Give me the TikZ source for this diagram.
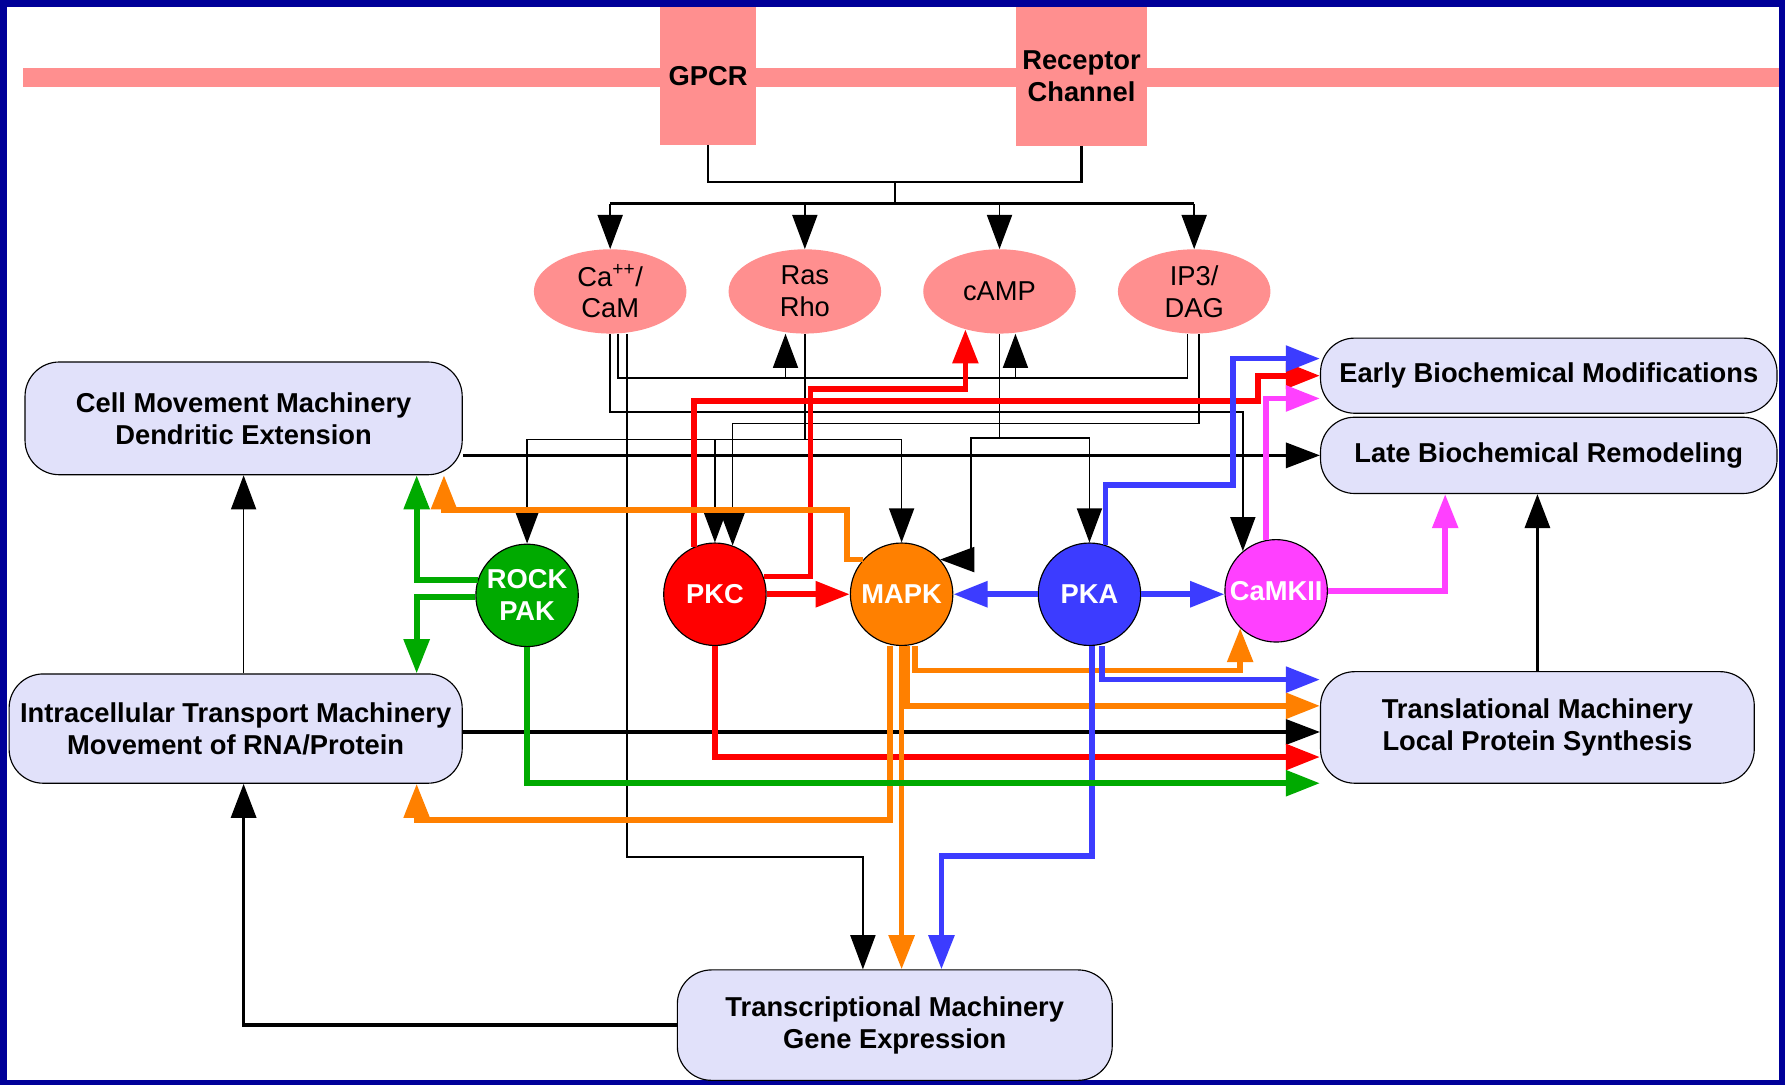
\documentclass[tikz,border=0pt]{standalone}
\usepackage{fontspec}
\setmainfont{Liberation Sans}
\usetikzlibrary{shapes.geometric,arrows.meta,calc}
\definecolor{navyframe}{RGB}{0,0,153}
\definecolor{membrane}{RGB}{255,143,143}
\definecolor{boxfill}{RGB}{225,225,250}
\definecolor{rockgreen}{RGB}{0,170,0}
\definecolor{pkcred}{RGB}{255,0,0}
\definecolor{mapkorange}{RGB}{255,128,0}
\definecolor{pkablue}{RGB}{60,60,255}
\definecolor{camkpink}{RGB}{255,64,255}

\begin{document}
\begin{tikzpicture}[x=1pt,y=-1pt]
    \pgfmathsetmacro{\picw}{1568}
    \pgfmathsetmacro{\pich}{953}
    \tikzset{
        box/.style={draw=black,line width=1pt,fill=boxfill,rounded corners=30pt,inner sep=0pt,align=center,font=\fontsize{24}{28}\selectfont\bfseries},
        messenger/.style={ellipse,fill=membrane,minimum width=134pt,minimum height=74pt,inner sep=0pt,align=center,font=\fontsize{24}{28}\selectfont},
        kinase/.style={circle,draw=black,line width=1pt,minimum size=90pt,inner sep=0pt,align=center,text=white,font=\fontsize{24}{28}\selectfont\bfseries},
        membox/.style={fill=membrane,minimum width=85pt,minimum height=121pt,inner sep=0pt,align=center,font=\fontsize{24}{28}\selectfont\bfseries},
        wire/.style={draw=black,line width=1.5pt},
        bar/.style={draw=black,line width=3pt},
        flow/.style={line width=5pt},
        arr/.style={-{Triangle[length=30pt,width=22pt]}}
    }
    \fill[navyframe] (0,0) rectangle (\picw,\pich);
    \fill[white] (6,6) rectangle (\picw-5,\pich-4);
    \useasboundingbox (0,0) rectangle (\picw,\pich);
    \fill[membrane] (20,60) rectangle (1563,76);
    \node[membox] (gpcr) at (622,66.5) {GPCR};
    \node[membox,minimum width=115pt,minimum height=122pt] (recep) at (950,67) {Receptor\\Channel};

    \node[messenger] (ca) at (536,256) {Ca\textsuperscript{++}/\\CaM};
    \node[messenger] (ras) at (707,256) {Ras\\Rho};
    \node[messenger] (camp) at (878,256) {cAMP};
    \node[messenger] (ip3) at (1049,256) {IP3/\\DAG};

    \node[kinase,fill=rockgreen] (rock) at (463,523) {ROCK\\PAK};
    \node[kinase,fill=pkcred] (pkc) at (628,522) {PKC};
    \node[kinase,fill=mapkorange] (mapk) at (792,522) {MAPK};
    \node[kinase,fill=pkablue] (pka) at (957,522) {PKA};
    \node[kinase,fill=camkpink] (camk) at (1121,519) {CaMKII};

    \node[box,minimum width=384pt,minimum height=99pt] (cellmove) at (214,367.5) {Cell Movement Machinery\\Dendritic Extension};
    \node[box,minimum width=398pt,minimum height=96pt] (transport) at (207,640) {Intracellular Transport Machinery\\Movement of RNA/Protein};
    \node[box,minimum width=401pt,minimum height=66pt] (early) at (1360.5,330) {Early Biochemical Modifications};
    \node[box,minimum width=401pt,minimum height=67pt] (late) at (1360.5,400) {Late Biochemical Remodeling};
    \node[box,minimum width=381pt,minimum height=98pt] (transl) at (1350.5,639) {Translational Machinery\\Local Protein Synthesis};
    \node[box,minimum width=382pt,minimum height=97pt] (transc) at (786,900.5) {Transcriptional Machinery\\Gene Expression};

    \coordinate (j_mem) at (786,160);
    \coordinate (j_bus) at (786,179);
    \coordinate (j_low) at (790,332);
    \coordinate (j_ca) at (800,362);
    \coordinate (j_tc) at (650,753);
    \coordinate (j_ras) at (707,386);
    \coordinate (j_dag) at (800,372);
    \coordinate (j_camp) at (878,385);
    \coordinate (t_pka) at ($(transl.west)+(0,-42)$);
    \coordinate (t_mapk) at ($(transl.west)+(0,-19)$);
    \coordinate (t_itm) at ($(transl.west)+(0,4)$);
    \coordinate (t_pkc) at ($(transl.west)+(0,26)$);
    \coordinate (t_rock) at ($(transl.west)+(0,49)$);
    \coordinate (e_pka) at ($(early.west)+(0,-15)$);
    \coordinate (e_camk) at ($(early.west)+(0,20)$);

    \draw[wire,line width=2pt] (gpcr.south) |- (j_mem) -| (recep.south);
    \draw[wire] (j_mem) -- (j_bus);
    \draw[bar] (ca.north |- j_bus) -- (ip3.north |- j_bus);
    \draw[wire,arr] (ca.north |- j_bus) -- (ca.north);
    \draw[wire,arr] (ras.north |- j_bus) -- (ras.north);
    \draw[wire,arr] (camp.north |- j_bus) -- (camp.north);
    \draw[wire,arr] (ip3.north |- j_bus) -- (ip3.north);

    \draw[wire] ([xshift=7pt]ca.south) |- (j_low) -| ([xshift=-6pt]ip3.south);
    \draw[wire,arr] ([xshift=-17pt]ras.south |- j_low) -- ([xshift=-17pt]ras.south);
    \draw[wire,arr] ([xshift=14pt]camp.south |- j_low) -- ([xshift=14pt]camp.south);
    \draw[wire,arr] (ca.south) |- (j_ca) -| (camk.130);
    \draw[wire,arr] ([xshift=15pt]ca.south) |- (j_tc) -| ([xshift=-28pt]transc.north);
    \draw[wire] (ras.south) -- (j_ras);
    \draw[wire,arr] (j_ras) -| (rock.north);
    \draw[wire,arr] (j_ras) -| (pkc.north);
    \draw[wire,arr] (j_ras) -| (mapk.north);
    \draw[wire,arr] ([xshift=4pt]ip3.south) |- (j_dag) -| (pkc.70);
    \draw[wire] (camp.south) -- (j_camp);
    \draw[wire,arr] (j_camp) -| (pka.north);
    \draw[wire,arr] (j_camp) -| ([xshift=27pt]mapk.42) -- (mapk.42);

    \draw[bar,arr] (cellmove.east |- late.west) -- (late.west);
    \draw[bar,arr] (transport.east |- t_itm) -- (t_itm);
    \draw[wire,arr] (transport.north -| cellmove.south) -- (cellmove.south);
    \draw[bar,arr] (transc.west) -| (transport.south -| cellmove.south);
    \draw[bar,arr] (transl.north) -- (transl.north |- late.south);

    \draw[flow,pkcred,arr] (pkc.114) |- (1105,352) |- (early.west);
    \draw[flow,pkcred,arr] (pkc.20) -| (712,342) -| (camp.228);
    \draw[flow,pkcred,arr] (pkc.east) -- (mapk.west);
    \draw[flow,pkcred,arr] (pkc.south) |- (t_pkc);

    \draw[flow,mapkorange,arr] (mapk.138) -| (744,448) -| ([xshift=176pt]cellmove.south);
    \draw[flow,mapkorange,arr] ([xshift=12pt]mapk.south) |- (950,589) -| (camk.226);
    \draw[flow,mapkorange,arr] ([xshift=5pt]mapk.south) |- (t_mapk);
    \draw[flow,mapkorange,arr] (mapk.south) -- (mapk.south |- transc.north);
    \draw[flow,mapkorange,arr] ([xshift=-10pt]mapk.south) |- (500,720) -| ([xshift=159pt]transport.south);

    \draw[flow,pkablue,arr] (pka.west) -- (mapk.east);
    \draw[flow,pkablue,arr] (pka.east) -- (pka.east -| camk.west);
    \draw[flow,pkablue,arr] (pka.72) |- (1083,426) |- (e_pka);
    \draw[flow,pkablue,arr] ([xshift=11pt]pka.south) |- (t_pka);
    \draw[flow,pkablue,arr] ([xshift=2pt]pka.south) |- (900,752) -| ([xshift=41pt]transc.north);

    \draw[flow,camkpink,arr] (camk.101) |- (e_camk);
    \draw[flow,camkpink,arr] (camk.east) -| ([xshift=-91pt]late.south);

    \draw[flow,rockgreen,arr] (rock.163) -| ([xshift=152pt]cellmove.south);
    \draw[flow,rockgreen,arr] (rock.182) -| ([xshift=159pt]transport.north);
    \draw[flow,rockgreen,arr] (rock.south) |- (t_rock);
\end{tikzpicture}
\end{document}
